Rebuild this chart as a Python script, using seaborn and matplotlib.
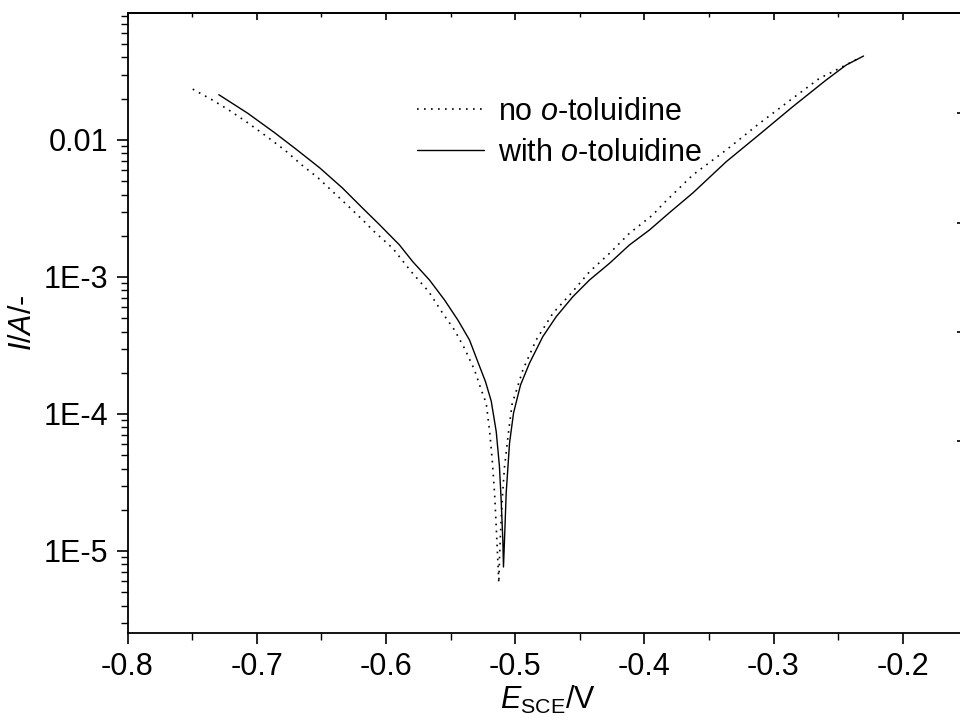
import numpy as np
import pandas as pd
import matplotlib
matplotlib.use("Agg")
import matplotlib.pyplot as plt
import matplotlib.ticker as mticker
import seaborn as sns

# ---- data ----
E_no = [-0.7495, -0.7352, -0.7224, -0.7081, -0.6914, -0.6777, -0.6651, -0.6527,
        -0.6408, -0.6287, -0.6166, -0.6096, -0.5947, -0.5804, -0.5668, -0.5560,
        -0.5469, -0.5392, -0.5314, -0.5262, -0.5224, -0.5198, -0.5177, -0.5159,
        -0.5146, -0.5134, -0.5126, -0.5121, -0.5113, -0.5100, -0.5082, -0.5049,
        -0.5022, -0.5005, -0.4940, -0.4837, -0.4708, -0.4566, -0.4424, -0.4269,
        -0.4115, -0.3934, -0.3857, -0.3625, -0.3366, -0.3108, -0.2851, -0.2644,
        -0.2541, -0.2334]
I_no = [0.0235, 0.0198, 0.01675, 0.0136, 0.01046, 0.00835, 0.00657, 0.00531,
        0.00417, 0.00326, 0.002533, 0.002168, 0.00162, 0.001093, 0.000781, 0.000543,
        0.00041, 0.000302, 0.0002096, 0.0001497, 0.0001203, 7.64e-5, 4.61e-5, 2.65e-5,
        1.50e-5, 8.6e-6, 5.84e-6, 8.6e-6, 1.353e-5, 2.36e-5, 4.10e-5, 7.64e-5,
        1.203e-4, 1.338e-4, 2.096e-4, 3.47e-4, 5.43e-4, 7.60e-4, 1.093e-3, 1.489e-3,
        2.085e-3, 2.84e-3, 3.40e-3, 5.55e-3, 8.45e-3, 0.01324, 0.02016, 0.0282,
        0.0315, 0.0397]

E_with = [-0.7293, -0.7069, -0.6862, -0.6694, -0.6514, -0.6334, -0.6179, -0.6055,
          -0.5895, -0.5792, -0.5663, -0.5546, -0.5443, -0.5353, -0.5289, -0.5229,
          -0.5185, -0.5146, -0.5121, -0.5108, -0.5095, -0.5090, -0.5082, -0.5069,
          -0.5043, -0.5012, -0.4987, -0.4958, -0.4889, -0.4786, -0.4682, -0.4553,
          -0.4424, -0.4269, -0.4115, -0.3960, -0.3805, -0.3625, -0.3366, -0.3108,
          -0.2851, -0.2592, -0.2437, -0.2303]
I_with = [0.0214, 0.01566, 0.01131, 0.00855, 0.00628, 0.00444, 0.003173, 0.002437,
          0.001713, 0.001293, 0.000951, 0.000679, 0.000485, 0.000347, 0.000241, 0.000172,
          0.0001244, 7.43e-5, 4.12e-5, 2.36e-5, 1.203e-5, 7.64e-6, 1.203e-5, 2.65e-5,
          6.14e-5, 1.017e-4, 1.265e-4, 1.628e-4, 2.345e-4, 3.665e-4, 5.13e-4, 7.18e-4,
          9.51e-4, 1.259e-3, 1.713e-3, 2.203e-3, 2.95e-3, 4.10e-3, 6.94e-3, 0.0110,
          0.01750, 0.02742, 0.03527, 0.0410]

labels = ["no $\\mathit{o}$-toluidine", "with $\\mathit{o}$-toluidine"]
x_ticks = [-0.8, -0.7, -0.6, -0.5, -0.4, -0.3, -0.2]
y_ticks = [1e-5, 1e-4, 1e-3, 1e-2]
y_ticklabels = ["1E-5", "1E-4", "1E-3", "0.01"]
right_ticks = [1, 2, 3, 4]

# ---- style ----
sns.set_theme(style="ticks")
plt.rcParams["font.family"] = ["Liberation Sans", "DejaVu Sans"]
plt.rcParams["mathtext.fontset"] = "custom"
plt.rcParams["mathtext.rm"] = "Liberation Sans"
plt.rcParams["mathtext.it"] = "Liberation Sans:italic"
plt.rcParams["mathtext.bf"] = "Liberation Sans:bold"
for k in ["text.color", "axes.labelcolor", "xtick.color", "ytick.color", "axes.edgecolor"]:
    plt.rcParams[k] = "black"

FS = 22

fig = plt.figure(figsize=(9.6, 7.23), dpi=100)
W, H = 960, 723
left_px, right_px, top_px, bot_px = 127.5, 967.3, 13, 633
ax = fig.add_axes([left_px / W, (H - bot_px) / H, (right_px - left_px) / W, (bot_px - top_px) / H])

df_no = pd.DataFrame({"E": E_no, "I": I_no})
df_with = pd.DataFrame({"E": E_with, "I": I_with})

sns.lineplot(data=df_no, x="E", y="I", ax=ax, sort=False, estimator=None,
             color="black", lw=1.2, linestyle=(0, (1, 3.2)), label=labels[0])
sns.lineplot(data=df_with, x="E", y="I", ax=ax, sort=False, estimator=None,
             color="black", lw=1.0, linestyle="-", label=labels[1])

ax.set_yscale("log")
ax.set_xlim(-0.8, -0.15)
ax.set_ylim(2.52e-6, 0.0845)

ax.xaxis.set_major_locator(mticker.FixedLocator(x_ticks))
ax.xaxis.set_major_formatter(mticker.FixedFormatter([f"{v:.1f}" for v in x_ticks]))
ax.xaxis.set_minor_locator(mticker.MultipleLocator(0.05))
ax.yaxis.set_major_locator(mticker.FixedLocator(y_ticks))
ax.yaxis.set_major_formatter(mticker.FixedFormatter(y_ticklabels))
ax.yaxis.set_minor_locator(mticker.LogLocator(base=10, subs=np.arange(2, 10)))
ax.yaxis.set_minor_formatter(mticker.NullFormatter())

for s in ax.spines.values():
    s.set_linewidth(1.3)
    s.set_color("black")

ax.tick_params(axis="both", which="major", direction="out", length=8, width=1.2,
               labelsize=FS, colors="black", pad=6)
ax.tick_params(axis="both", which="minor", direction="out", length=5, width=1.0, colors="black")
ax.tick_params(top=False, right=False)

# top ticks (inward)
sec = ax.secondary_xaxis("top")
sec.xaxis.set_major_locator(mticker.FixedLocator(x_ticks))
sec.xaxis.set_minor_locator(mticker.MultipleLocator(0.05))
sec.tick_params(axis="x", which="major", direction="in", length=5, width=1.2, labeltop=False)
sec.tick_params(axis="x", which="minor", direction="in", length=3, width=1.0)
sec.spines["top"].set_linewidth(1.3)

# right ticks (inward)
twin = ax.twinx()
twin.set_ylim(-0.761, 4.92)
twin.set_yticks(right_ticks)
twin.tick_params(axis="y", direction="in", length=7, width=1.2, labelright=False)
for s in twin.spines.values():
    s.set_visible(False)

ax.set_xlabel("$\\mathit{E}_{\\mathrm{SCE}}$/V", fontsize=FS, labelpad=1)
ax.set_ylabel("$\\mathit{I}$/$\\mathit{A}$/-", fontsize=FS, labelpad=4)

leg = ax.legend(loc="upper left", bbox_to_anchor=(417 / W, 1 - 97 / H),
                bbox_transform=fig.transFigure, frameon=False, fontsize=FS,
                handlelength=2.2, handletextpad=0.45, labelspacing=0.35,
                borderpad=0, borderaxespad=0)
for line in leg.get_lines():
    line.set_color("black")
for t in leg.get_texts():
    t.set_color("black")

fig.savefig("out.png", dpi=100)
